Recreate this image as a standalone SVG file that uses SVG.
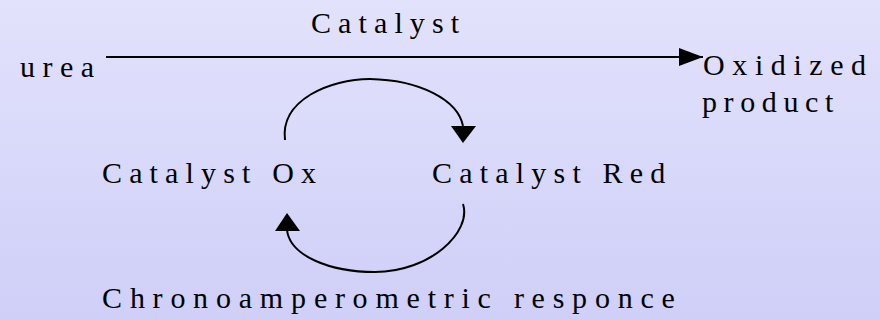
<svg xmlns="http://www.w3.org/2000/svg" width="880" height="320" viewBox="0 0 880 320">
<defs>
<linearGradient id="bg" x1="0" y1="0" x2="0" y2="1">
<stop offset="0" stop-color="#e2e2fc"/>
<stop offset="1" stop-color="#cfcff8"/>
</linearGradient>
<marker id="ah" viewBox="0 0 24 18" refX="24" refY="9" markerWidth="24" markerHeight="18" markerUnits="userSpaceOnUse" orient="auto">
<path d="M0,0 L24,9 L0,18 Z" fill="#000"/>
</marker>
</defs>
<style>
.c{fill:none;stroke:#000;stroke-width:2}
</style>
<rect width="880" height="320" fill="url(#bg)"/>
<g id="connectors">
<line class="c" x1="106" y1="57" x2="703" y2="57" marker-end="url(#ah)"/>
<path class="c" d="M285,140 C280,100 330,79 370,79 C420,80 458,100 463,126"/>
<path d="M451,126 L476,126 L463,143 Z" fill="#000"/>
<path class="c" d="M463,204 C472,232 430,272 375,272 C330,272 290,256 287,230"/>
<path d="M275,231 L300,231 L287,213 Z" fill="#000"/>
</g>
<g id="catalyst-label"><text x="311 338.1 358.5 374 394.4 409.8 431.9 450.7" y="33" style="font-family:'Liberation Serif',serif;font-size:30px">Catalyst</text></g>
<g id="urea"><text x="20 42.5 60 80.8" y="77" style="font-family:'Liberation Serif',serif;font-size:30px">urea</text></g>
<g id="oxidized-product">
<text x="703 732.3 754.9 770.8 793.4 809.3 830.2 851.1" y="75" style="font-family:'Liberation Serif',serif;font-size:30px">Oxidized</text>
<text x="702 723.6 740.2 761.8 783.4 805 824.9" y="112" style="font-family:'Liberation Serif',serif;font-size:30px">product</text>
</g>
<g id="catalyst-ox"><text x="102 129.2 149.6 165.1 185.6 201.1 223.2 242 257.5 272.2 301" y="183" style="font-family:'Liberation Serif',serif;font-size:30px">Catalyst Ox</text></g>
<g id="catalyst-red"><text x="432 459.2 479.7 495.3 515.8 531.3 553.5 572.4 587.9 602.6 629.8 650.3" y="183" style="font-family:'Liberation Serif',serif;font-size:30px">Catalyst Red</text></g>
<g id="chrono"><text x="102 129.9 152.6 170.4 193.1 215.9 238.7 259.8 291.1 313.9 334.9 352.6 375.4 406.6 427.8 443.8 461.5 477.5 497 513.9 531.6 552.7 572.1 594.9 617.7 640.5 661.5" y="308" style="font-family:'Liberation Serif',serif;font-size:30px">Chronoamperometric responce</text></g>
</svg>
